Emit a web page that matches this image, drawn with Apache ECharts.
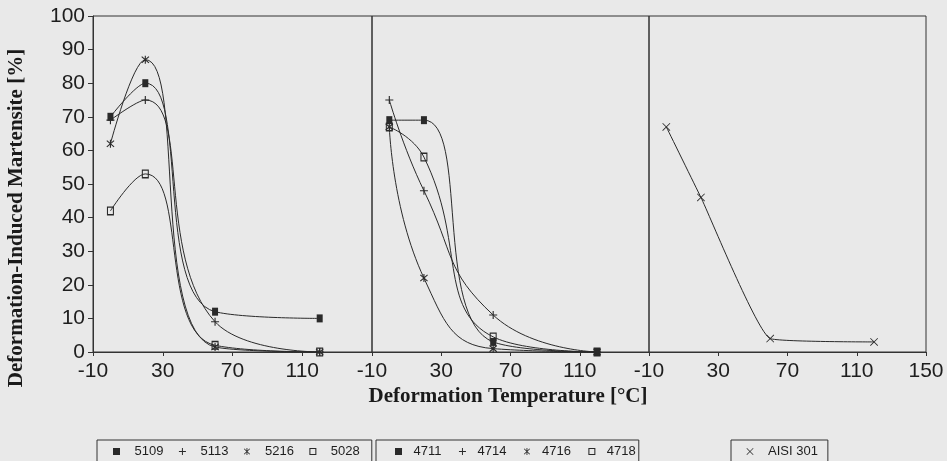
<!DOCTYPE html>
<html><head><meta charset="utf-8">
<script src="https://cdn.jsdelivr.net/npm/echarts@6/dist/echarts.min.js"></script>
<style>html,body{margin:0;padding:0;background:#e9e9e9}#c{width:947px;height:461px}</style>
</head><body><div id="c"></div>
<script>
// Deformation temperatures [°C]
const temps = [0, 20, 60, 120];
// Panel 1 alloys
const s5109 = [70, 80, 12, 10];
const s5113 = [69, 75, 9, 0];
const s5216 = [62, 87, 1.5, 0];
const s5028 = [42, 53, 2, 0];
// Panel 2 alloys
const s4711 = [69, 69, 3, 0];
const s4714 = [75, 48, 11, 0];
const s4716 = [67, 22, 1, 0];
const s4718 = [67, 58, 4.5, 0];
// Panel 3
const aisi301 = [67, 46, 4, 3];
const xTicks = [-10, 30, 70, 110, 150];
const yTicks = [0, 10, 20, 30, 40, 50, 60, 70, 80, 90, 100];

const INK = '#2a2a2a';
const SYM = {
  fill: 'rect',
  plus: 'path://M4.3,0H5.7V4.3H10V5.7H5.7V10H4.3V5.7H0V4.3H4.3Z',
  star: 'path://M4.4,0H5.6V10H4.4Z M0.6,1.6L1.4,0.6L9.4,8.4L8.6,9.4Z M8.6,0.6L9.4,1.6L1.4,9.4L0.6,8.4Z',
  open: 'path://M0,0H10V10H0Z M1.5,1.5V8.5H8.5V1.5Z',
  cross: 'path://M0.7,0L10,9.2L9.3,10L0,0.8Z M9.3,0L10,0.8L0.7,10L0,9.2Z'
};
const SIZE = {fill: [6, 8], plus: 8, star: 8, open: [7, 9], cross: 8};

function pts(vals) { return temps.map((t, i) => [t, vals[i]]); }
function mk(name, vals, sym, panel, smooth) {
  return {
    name, type: 'line', xAxisIndex: panel, yAxisIndex: panel,
    data: pts(vals), smooth: smooth,
    symbol: SYM[sym], symbolSize: SIZE[sym], showAllSymbol: true,
    lineStyle: {color: INK, width: 1},
    itemStyle: {color: INK, borderWidth: 0},
    emphasis: {disabled: true}, z: 3
  };
}

const series = [
  mk('5109', s5109, 'fill', 0, 0.5),
  mk('5113', s5113, 'plus', 0, 0.5),
  mk('5216', s5216, 'star', 0, 0.5),
  mk('5028', s5028, 'open', 0, 0.5),
  mk('4711', s4711, 'fill', 1, 0.5),
  mk('4714', s4714, 'plus', 1, 0.5),
  mk('4716', s4716, 'star', 1, 0.5),
  mk('4718', s4718, 'open', 1, 0.5),
  mk('AISI 301', aisi301, 'cross', 2, 0.12)
];

const lefts = [93, 372, 649];
const widths = [279, 277, 277];
const grids = lefts.map((l, i) => ({
  left: l, top: 16, width: widths[i], height: 336,
  show: true, borderColor: '#333', borderWidth: 1, backgroundColor: 'transparent'
}));
const labelFont = {fontFamily: 'Liberation Sans', fontSize: 21, color: '#1e1e1e'};
const xAxes = [0, 1, 2].map(i => ({
  type: 'value', gridIndex: i, min: xTicks[0], max: xTicks[xTicks.length - 1], interval: 40,
  axisLine: {show: true, onZero: false, lineStyle: {color: '#333', width: 1}},
  axisTick: {show: true, length: 4, lineStyle: {color: '#333'}},
  axisLabel: Object.assign({margin: 9, showMaxLabel: i === 2, showMinLabel: true}, labelFont),
  splitLine: {show: false}
}));
const yAxes = [0, 1, 2].map(i => ({
  type: 'value', gridIndex: i, min: yTicks[0], max: yTicks[yTicks.length - 1], interval: 10,
  show: i === 0,
  axisLine: {show: true, onZero: false, lineStyle: {color: '#333', width: 1}},
  axisTick: {show: true, length: 5, lineStyle: {color: '#333'}},
  axisLabel: Object.assign({margin: 8}, labelFont),
  splitLine: {show: false}
}));

function legend(names, syms, left, pad, textPad, gap) {
  return {
    left: left, top: 440, orient: 'horizontal',
    data: names.map((n, i) => ({name: n, icon: SYM[syms[i]]})),
    itemWidth: 7, itemHeight: 7, itemGap: gap,
    padding: pad,
    borderColor: '#333', borderWidth: 1,
    selectedMode: false,
    textStyle: {fontFamily: 'Liberation Sans', fontSize: 13, color: '#1e1e1e', padding: [0, 0, 0, textPad]}
  };
}

const chart = echarts.init(document.getElementById('c'));
chart.setOption({
  animation: false,
  backgroundColor: '#e9e9e9',
  grid: grids, xAxis: xAxes, yAxis: yAxes, series,
  legend: [
    legend(['5109', '5113', '5216', '5028'], ['fill', 'plus', 'star', 'open'], 97, [5, 12, 20, 16], 9.5, 15.5),
    legend(['4711', '4714', '4716', '4718'], ['fill', 'plus', 'star', 'open'], 376, [5, 3, 20, 19], 6.5, 17.5),
    legend(['AISI 301'], ['cross'], 731, [5, 10, 20, 15.5], 9.5, 10)
  ],
  graphic: [
    {type: 'text', x: 17, y: 218, rotation: Math.PI / 2,
     style: {text: 'Deformation-Induced Martensite [%]', font: 'bold 21px "Liberation Serif"', fill: '#1a1a1a', align: 'center', verticalAlign: 'middle'}},
    {type: 'text', x: 508, y: 397,
     style: {text: 'Deformation Temperature [°C]', font: 'bold 21px "Liberation Serif"', fill: '#1a1a1a', align: 'center', verticalAlign: 'middle'}}
  ]
});
</script></body></html>
